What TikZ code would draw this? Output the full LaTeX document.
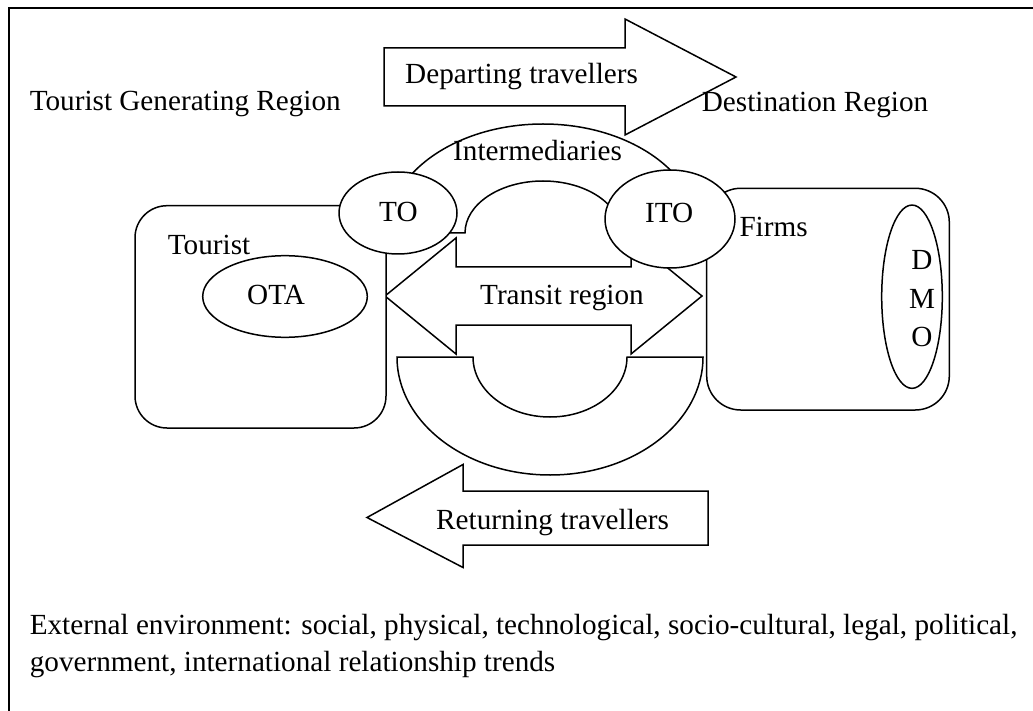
\documentclass[tikz,border=0pt]{standalone}
\usepackage{fontspec}
\setmainfont{Liberation Serif}
\usetikzlibrary{shapes.geometric}
\begin{document}
\begin{tikzpicture}[x=1pt,y=1pt,
  blockshape/.style={draw=black, fill=white, line width=1.5pt, line join=miter},
  oval/.style={ellipse, draw=black, fill=white, line width=1.5pt, inner sep=0pt},
  lbl/.style={anchor=base west, inner sep=0pt, font=\fontsize{29.2}{37}\selectfont},
  clbl/.style={anchor=base, inner sep=0pt, font=\fontsize{29.2}{37}\selectfont}]

\useasboundingbox (0,0) rectangle (1033,-711);

% outer frame (left and top edges)
\draw[line width=2.2pt] (9,-730) -- (9,-8) -- (1050,-8);

% Intermediaries block arc
\draw[blockshape] (387,-233)
  arc[start angle=180, end angle=0, x radius=156, y radius=109]
  -- (621,-233)
  arc[start angle=0, end angle=180, x radius=78, y radius=52]
  -- cycle;

% Transit region double arrow
\draw[blockshape] (385,-296) -- (456,-238) -- (456,-267) -- (631,-267)
  -- (631,-238) -- (702,-296) -- (631,-354) -- (631,-325) -- (456,-325)
  -- (456,-354) -- cycle;

% lower block arc
\draw[blockshape] (397,-357)
  arc[start angle=180, end angle=360, x radius=153, y radius=118]
  -- (627,-357)
  arc[start angle=0, end angle=-180, x radius=77, y radius=60]
  -- cycle;

% generating and destination regions
\draw[blockshape, rounded corners=32pt] (135,-205.7) rectangle (386,-428);
\draw[blockshape, rounded corners=34pt] (706.7,-188.3) rectangle (949.3,-410);

% ellipses
\node[oval, minimum width=118pt, minimum height=82pt] (to) at (398,-213) {};
\node[oval, minimum width=130pt, minimum height=98pt] (ito) at (670,-219) {};
\node[oval, minimum width=164.6pt, minimum height=81.6pt] (ota) at (285,-296.5) {};
\node[oval, minimum width=60.6pt, minimum height=183.3pt] (dmo) at (912,-296.7) {};

% departing and returning arrows
\draw[blockshape] (384,-48) -- (625,-48) -- (625,-19) -- (736,-77)
  -- (625,-135) -- (625,-106) -- (384,-106) -- cycle;
\draw[blockshape] (708,-491) -- (463,-491) -- (463,-464.5) -- (367,-517.5)
  -- (463,-567.5) -- (463,-545) -- (708,-545) -- cycle;

% labels
\node[lbl] (tdep) at (405,-84) {Departing travellers};
\node[lbl] (tgen) at (29.6,-111) {Tourist Generating Region};
\node[lbl] (tdest) at (701.7,-111.5) {Destination Region};
\node[lbl] (tint) at (453,-161) {Intermediaries};
\node[lbl] (tto) at (379,-221.7) {TO};
\node[lbl] (tito) at (645,-222.7) {ITO};
\node[lbl] (tfirms) at (739.3,-236.7) {Firms};
\node[lbl] (ttour) at (167.7,-255) {Tourist};
\node[lbl] (tota) at (247,-305) {OTA};
\node[lbl] (ttrans) at (480,-305) {Transit region};
\node[clbl] (td) at (922,-270) {D};
\node[clbl] (tm) at (922,-308.3) {M};
\node[clbl] (tmo) at (922,-346) {O};
\node[lbl] (tret) at (436,-529) {Returning travellers};
\node[lbl] (text1) at (29.6,-634) {External environment: social, physical, technological, socio-cultural, legal, political,};
\node[lbl] (text2) at (29.6,-671.7) {government, international relationship trends};

\end{tikzpicture}
\end{document}
